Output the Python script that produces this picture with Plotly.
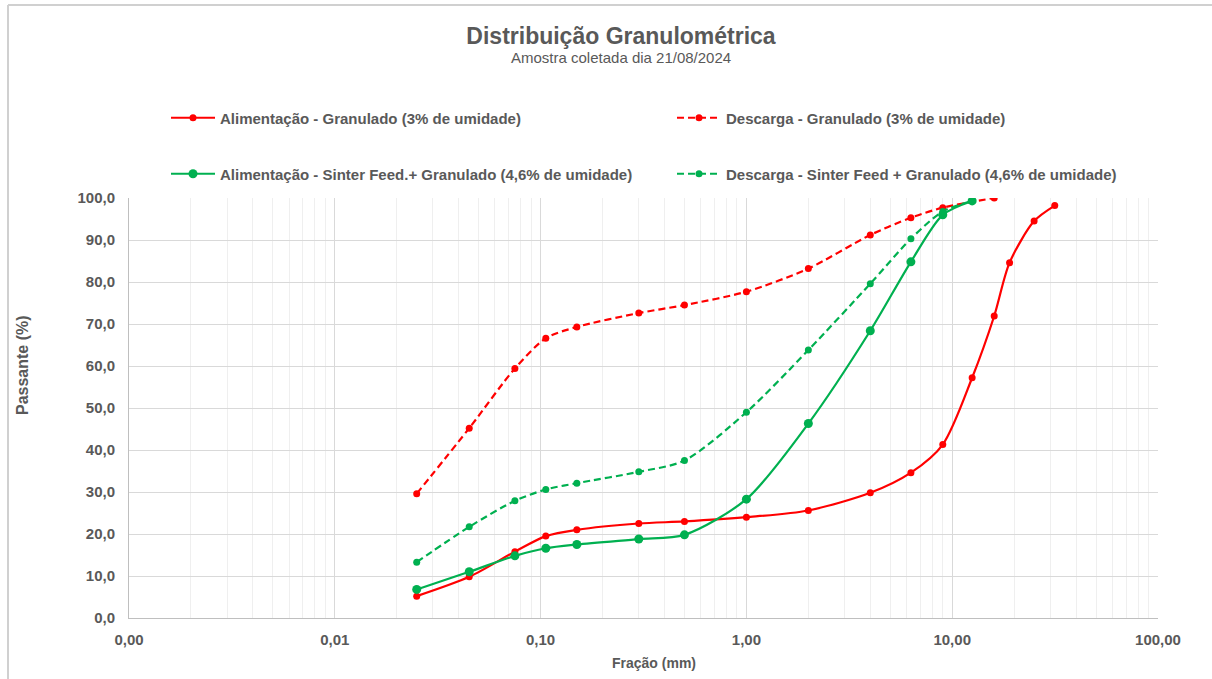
import plotly.graph_objects as go

# Sieve openings (mm) and cumulative passing (%) for each sample
x_alim_gran = [0.025, 0.045, 0.075, 0.106, 0.15, 0.3, 0.5, 1, 2, 4, 6.3, 9, 12.5, 16, 19, 25, 31.5]
y_alim_gran = [5.2, 9.8, 15.8, 19.5, 21.0, 22.5, 23.0, 24.0, 25.6, 29.8, 34.6, 41.3, 57.2, 71.9, 84.6, 94.5, 98.2]

x_desc_gran = [0.025, 0.045, 0.075, 0.106, 0.15, 0.3, 0.5, 1, 2, 4, 6.3, 9, 16]
y_desc_gran = [29.6, 45.2, 59.4, 66.6, 69.3, 72.6, 74.5, 77.7, 83.2, 91.2, 95.3, 97.7, 100.0]

x_alim_sf = [0.025, 0.045, 0.075, 0.106, 0.15, 0.3, 0.5, 1, 2, 4, 6.3, 9, 12.5]
y_alim_sf = [6.8, 11.0, 14.8, 16.6, 17.5, 18.8, 19.8, 28.3, 46.3, 68.4, 84.8, 96.0, 99.3]

x_desc_sf = [0.025, 0.045, 0.075, 0.106, 0.15, 0.3, 0.5, 1, 2, 4, 6.3, 9, 12.5]
y_desc_sf = [13.3, 21.7, 27.9, 30.6, 32.1, 34.8, 37.5, 49.0, 63.8, 79.6, 90.3, 96.8, 99.3]

names = [
    "Alimentação - Granulado (3% de umidade)",
    "Descarga - Granulado (3% de umidade)",
    "Alimentação - Sinter Feed.+ Granulado (4,6% de umidade)",
    "Descarga - Sinter Feed + Granulado (4,6% de umidade)",
]

x_tickvals = [0.001, 0.01, 0.1, 1, 10, 100]
x_ticktext = ["0,00", "0,01", "0,10", "1,00", "10,00", "100,00"]
y_tickvals = [0, 10, 20, 30, 40, 50, 60, 70, 80, 90, 100]
y_ticktext = ["0,0", "10,0", "20,0", "30,0", "40,0", "50,0", "60,0", "70,0", "80,0", "90,0", "100,0"]

RED = "#FF0000"
GREEN = "#00B050"
TXT = "#595959"
FONT = "Liberation Sans, Arial, sans-serif"
DASH = "7px,4px"

fig = go.Figure()

def add(x, y, name, color, dash, msize, legend):
    fig.add_trace(go.Scatter(
        x=x, y=y, name=name, mode="lines+markers",
        line=dict(color=color, width=2.2, dash=dash, shape="spline", smoothing=0.8),
        marker=dict(color=color, size=msize),
        legend=legend,
    ))

# one legend box per entry, laid out as a 2 x 2 grid
add(x_alim_gran, y_alim_gran, names[0], RED, "solid", 7, "legend")
add(x_desc_gran, y_desc_gran, names[1], RED, DASH, 7, "legend2")
add(x_alim_sf, y_alim_sf, names[2], GREEN, "solid", 9, "legend3")
add(x_desc_sf, y_desc_sf, names[3], GREEN, DASH, 7, "legend4")

W, H = 1212, 679
L, R, T, B = 129, 54, 198, 61
pw, ph = W - L - R, H - T - B

def px(xpix):
    return (xpix - L) / pw

def py(ypix):
    return (H - B - ypix) / ph

legend_common = dict(
    orientation="h", xanchor="left", yanchor="middle",
    font=dict(family=FONT, size=15, color=TXT, weight="bold"),
    itemwidth=44, bgcolor="rgba(0,0,0,0)",
)

fig.update_layout(
    width=W, height=H,
    margin=dict(l=L, r=R, t=T, b=B),
    paper_bgcolor="white", plot_bgcolor="white",
    font=dict(family=FONT, color=TXT),
    title=dict(
        text="<b>Distribuição Granulométrica</b>",
        font=dict(family=FONT, size=23, color=TXT),
        x=621 / W, xanchor="center", xref="container",
        y=1 - 36 / H, yanchor="middle", yref="container",
    ),
    legend=dict(x=px(166), y=py(118), **legend_common),
    legend2=dict(x=px(672), y=py(118), **legend_common),
    legend3=dict(x=px(166), y=py(174), **legend_common),
    legend4=dict(x=px(672), y=py(174), **legend_common),
    xaxis=dict(
        type="log", range=[-3, 2],
        tickvals=x_tickvals, ticktext=x_ticktext,
        tickfont=dict(family=FONT, size=15, color=TXT, weight="bold"),
        showgrid=True, gridcolor="#D9D9D9", gridwidth=1,
        minor=dict(showgrid=True, gridcolor="#EFEFEF", gridwidth=1, dtick="D1", ticks=""),
        showline=True, linecolor="#BFBFBF", linewidth=1, mirror=False,
        zeroline=False, ticks="", ticklabelstandoff=8,
    ),
    yaxis=dict(
        range=[0, 100],
        tickvals=y_tickvals, ticktext=y_ticktext,
        tickfont=dict(family=FONT, size=15, color=TXT, weight="bold"),
        showgrid=True, gridcolor="#D9D9D9", gridwidth=1,
        showline=True, linecolor="#BFBFBF", linewidth=1,
        zeroline=False, ticks="", ticklabelstandoff=10,
    ),
    annotations=[
        dict(text="Amostra coletada dia 21/08/2024",
             x=px(621), y=py(57), xref="paper", yref="paper",
             xanchor="center", yanchor="middle", showarrow=False,
             font=dict(family=FONT, size=15, color=TXT)),
        dict(text="<b>Fração (mm)</b>",
             x=px(654), y=py(663), xref="paper", yref="paper",
             xanchor="center", yanchor="middle", showarrow=False,
             font=dict(family=FONT, size=14, color=TXT)),
        dict(text="<b>Passante (%)</b>", textangle=-90,
             x=px(22), y=py(365), xref="paper", yref="paper",
             xanchor="center", yanchor="middle", showarrow=False,
             font=dict(family=FONT, size=16, color=TXT)),
    ],
    shapes=[
        dict(type="line", xref="paper", yref="paper", x0=px(8), x1=px(W), y0=py(5), y1=py(5),
             line=dict(color="#D0D0D0", width=2)),
        dict(type="line", xref="paper", yref="paper", x0=px(8), x1=px(8), y0=py(5), y1=py(H),
             line=dict(color="#D0D0D0", width=2)),
    ],
    showlegend=True,
)

fig.write_html("out.html")
